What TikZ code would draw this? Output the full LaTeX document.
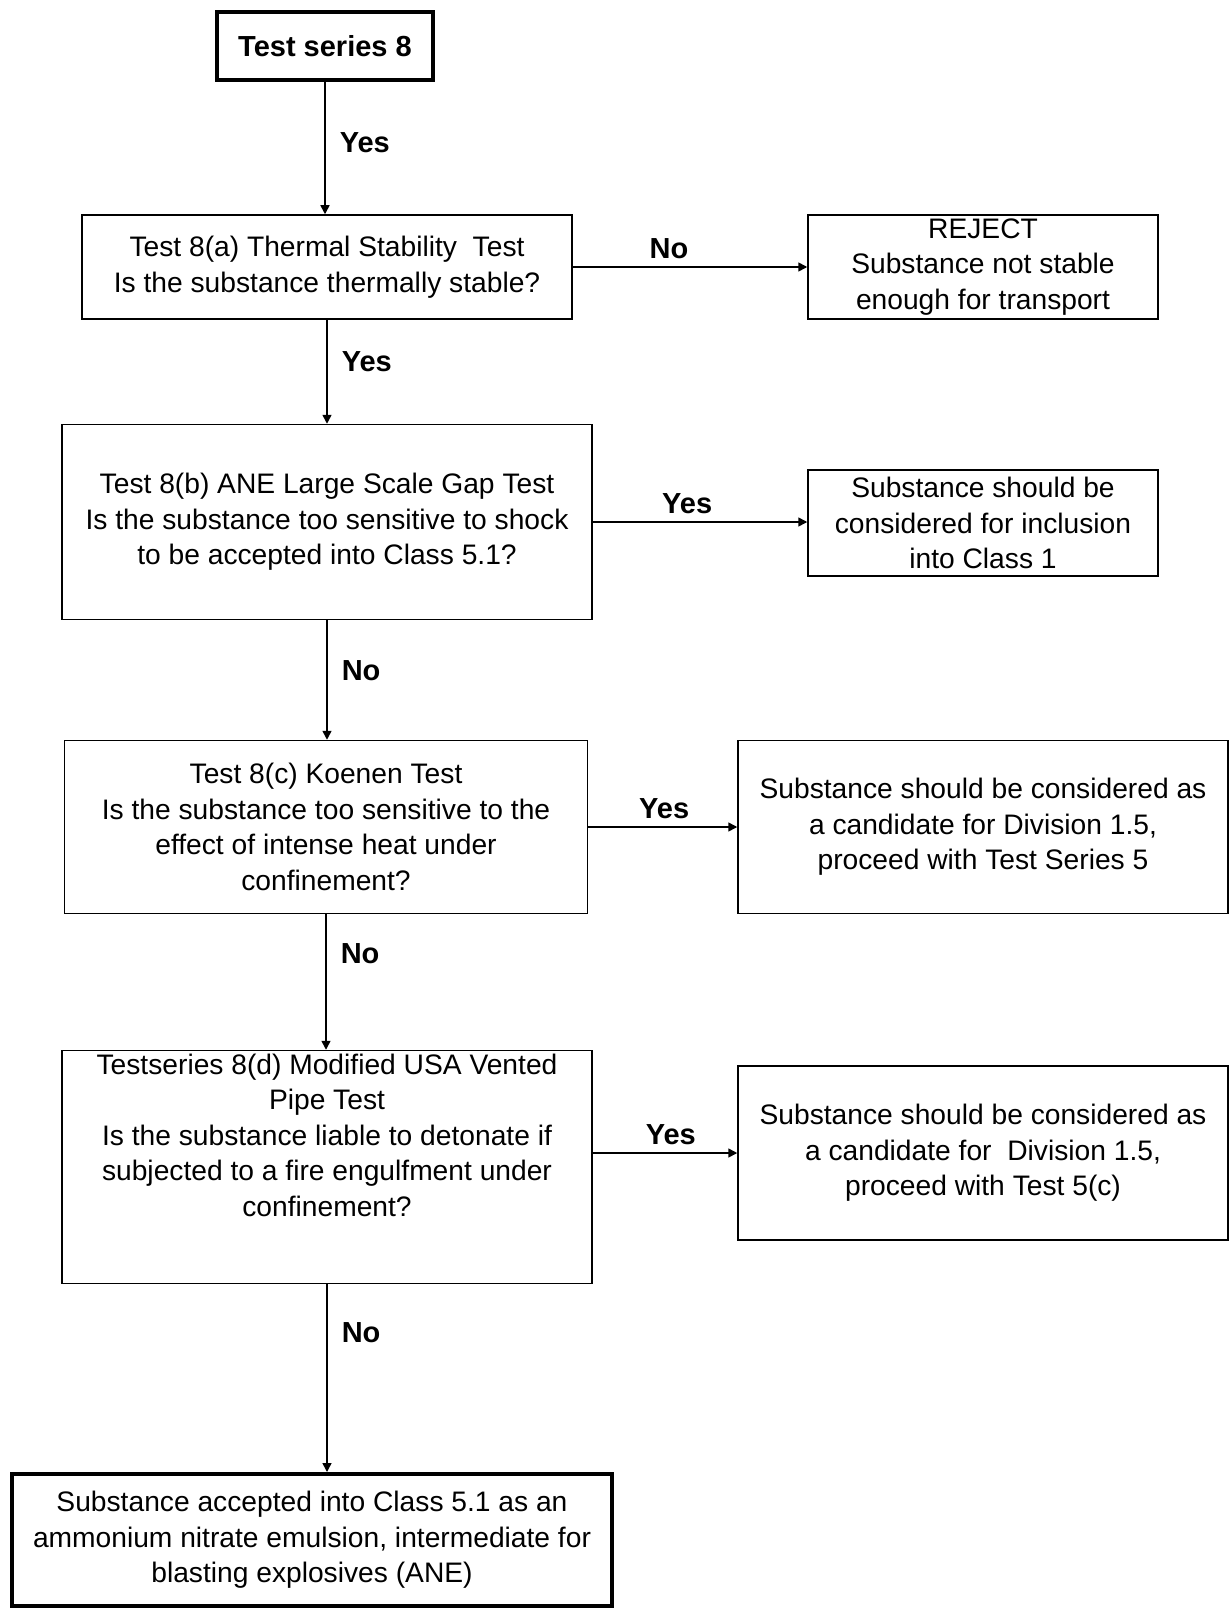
\documentclass[tikz,border=0pt]{standalone}
\usepackage{fontspec}
\setmainfont{Liberation Sans}
\usetikzlibrary{arrows.meta}

\begin{document}
\begin{tikzpicture}[
  x=1pt,
  y=-1pt,
  >={Triangle[length=9pt,width=9pt]},
  box/.style={draw=black, line width=1.5pt, align=center, inner sep=0pt,
    font=\fontsize{28.2}{35.5}\selectfont},
  endbox/.style={box, line width=4.5pt},
  boxtext/.style={align=center, inner sep=0pt, font=\fontsize{28.2}{35.5}\selectfont},
  arrow/.style={draw=black, line width=1.5pt, ->},
  answer/.style={font=\bfseries\fontsize{29}{33}\selectfont, inner sep=0pt}
]
\path[use as bounding box] (0,0) rectangle (1230,1608);
\fill[white] (0,0) rectangle (1230,1608);

% Left column: the tests
\node[endbox, minimum width=216pt, minimum height=68pt,
  font=\bfseries\fontsize{29}{33}\selectfont] (series) at (325,46) {Test series 8};

\node[box, minimum width=490pt, minimum height=104pt] (testa) at (327,267)
  {Test 8(a) Thermal Stability~ Test\\Is the substance thermally stable?};

\node[box, minimum width=530pt, minimum height=195pt] (testb) at (327,522)
  {Test 8(b) ANE Large Scale Gap Test\\Is the substance too sensitive to shock\\to be accepted into Class 5.1?};

\node[box, minimum width=523pt, minimum height=173pt] (testc) at (326,827)
  {Test 8(c) Koenen Test\\Is the substance too sensitive to the\\effect of intense heat under\\confinement?};

\node[box, minimum width=530pt, minimum height=233pt] (testd) at (327,1167) {};
\node[boxtext] (testdtext) at (327,1135)
  {Testseries 8(d) Modified USA Vented\\Pipe Test\\Is the substance liable to detonate if\\subjected to a fire engulfment under\\confinement?};

\node[endbox, line width=4pt, minimum width=600pt, minimum height=132pt] (accepted) at (312,1540)
  {Substance accepted into Class 5.1 as an\\ammonium nitrate emulsion, intermediate for\\blasting explosives (ANE)};

% Right column: outcomes
\node[box, minimum width=350pt, minimum height=104pt] (reject) at (983,267)
  {REJECT\\Substance not stable\\enough for transport};

\node[box, minimum width=350pt, minimum height=106pt] (classone) at (983,523)
  {Substance should be\\considered for inclusion\\into Class 1};

\node[box, minimum width=490pt, minimum height=173pt] (divseries) at (983,827)
  {Substance should be considered as\\a candidate for Division 1.5,\\proceed with Test Series 5};

\node[box, minimum width=490pt, minimum height=174pt] (divfivec) at (983,1153)
  {Substance should be considered as\\a candidate for~ Division 1.5,\\proceed with Test 5(c)};

% Connectors
\draw[arrow] (series) -- (series |- testa.north)
  node[answer, pos=0.46, anchor=west, xshift=14pt] (yes0) {Yes};
\draw[arrow] (testa) -- (reject)
  node[answer, pos=0.41, anchor=south, yshift=7pt] (no1) {No};
\draw[arrow] (testa.south) -- (testa.south |- testb.north)
  node[answer, pos=0.40, anchor=west, xshift=14pt] (yes1) {Yes};
\draw[arrow] (testb.east) -- (testb.east -| classone.west)
  node[answer, pos=0.44, anchor=south, yshift=7pt] (yes2) {Yes};
\draw[arrow] (testb.south) -- (testb.south |- testc.north)
  node[answer, pos=0.42, anchor=west, xshift=14pt] (no2) {No};
\draw[arrow] (testc) -- (divseries)
  node[answer, pos=0.51, anchor=south, yshift=7pt] (yes3) {Yes};
\draw[arrow] (testc.south) -- (testc.south |- testd.north)
  node[answer, pos=0.29, anchor=west, xshift=14pt] (no3) {No};
\draw[arrow] (testd.east |- divfivec.west) -- (divfivec.west)
  node[answer, pos=0.54, anchor=south, yshift=7pt] (yes4) {Yes};
\draw[arrow] (testd.south) -- (testd.south |- accepted.north)
  node[answer, pos=0.26, anchor=west, xshift=14pt] (no4) {No};

\end{tikzpicture}
\end{document}
